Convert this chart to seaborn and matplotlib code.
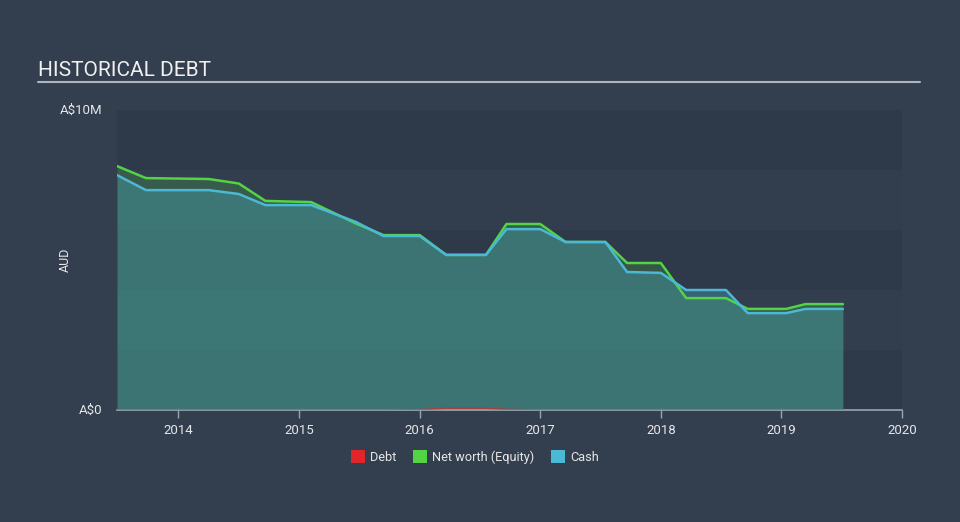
import matplotlib
matplotlib.use("Agg")
import matplotlib.pyplot as plt
import seaborn as sns
import pandas as pd
from matplotlib.patches import Patch

# ---- data (A$ millions), dates in decimal years ----
dates = [2013.49, 2013.73, 2014.25, 2014.50, 2014.72, 2015.10, 2015.47, 2015.70,
         2016.00, 2016.22, 2016.55, 2016.72, 2017.00, 2017.21, 2017.54, 2017.72,
         2018.00, 2018.21, 2018.54, 2018.72, 2019.04, 2019.20, 2019.51]
net_worth = [8.13, 7.73, 7.70, 7.55, 6.97, 6.93, 6.22, 5.83,
             5.83, 5.17, 5.17, 6.20, 6.20, 5.60, 5.60, 4.90,
             4.90, 3.73, 3.73, 3.37, 3.37, 3.53, 3.53]
cash = [7.83, 7.33, 7.33, 7.20, 6.83, 6.83, 6.27, 5.80,
        5.80, 5.17, 5.17, 6.03, 6.03, 5.60, 5.60, 4.60,
        4.57, 4.00, 4.00, 3.23, 3.23, 3.37, 3.37]
debt = [0, 0, 0, 0, 0, 0, 0, 0,
        0.01, 0.06, 0.06, 0.02, 0, 0, 0, 0,
        0, 0, 0, 0, 0, 0, 0]
year_ticks = [2014, 2015, 2016, 2017, 2018, 2019, 2020]
y_ticks = [0, 10]
y_tick_labels = ["A$0", "A$10M"]

df = pd.DataFrame({"date": dates, "Net worth (Equity)": net_worth,
                   "Cash": cash, "Debt": debt})

BG = "#333f4f"
DARK = "#2e3949"
LIGHT = "#323e4e"
GREEN = "#52d444"
BLUE = "#4bb8d6"
RED = "#e0262a"
TXT = "#e6e6e6"

sns.set_theme(style="dark")
plt.rcParams["font.family"] = ["Roboto", "DejaVu Sans"]

fig = plt.figure(figsize=(9.6, 5.22), dpi=100, facecolor=BG)
W, H = 960, 522
ax = fig.add_axes([117 / W, 1 - 410 / H, (902 - 117) / W, 300 / H])
ax.set_facecolor(BG)

# horizontal bands
for i in range(5):
    ax.axhspan(i * 2, i * 2 + 2, color=DARK if i % 2 == 0 else LIGHT, lw=0, zorder=0)

ax.fill_between(df["date"], 0, df["Net worth (Equity)"], color=GREEN, alpha=0.2, lw=0, zorder=1)
ax.fill_between(df["date"], 0, df["Cash"], color=BLUE, alpha=0.3, lw=0, zorder=2)

sns.lineplot(data=df, x="date", y="Net worth (Equity)", ax=ax, color=GREEN, lw=1.8, zorder=4)
sns.lineplot(data=df, x="date", y="Cash", ax=ax, color=BLUE, lw=1.8, zorder=5)
sns.lineplot(data=df, x="date", y="Debt", ax=ax, color=RED, lw=1.2, alpha=0.6, zorder=6)

ax.set_xlim(2013.49, 2020.0)
ax.set_ylim(0, 10)
ax.set_xlabel("")
ax.set_ylabel("")
for s in ["top", "right", "left"]:
    ax.spines[s].set_visible(False)
ax.spines["bottom"].set_color("#9aa4b0")
ax.spines["bottom"].set_linewidth(1.2)
ax.set_xticks(year_ticks)
ax.set_xticklabels([str(y) for y in year_ticks], color=TXT, fontsize=9.5)
ax.tick_params(axis="x", length=6, width=1, color="#9aa4b0", pad=4, bottom=True)
ax.set_yticks([])
ax.grid(False)

# y tick labels
for v, lab in zip(y_ticks, y_tick_labels):
    fig.text(102 / W, 1 - (410 - v * 30) / H, lab, ha="right", va="center",
             color=TXT, fontsize=9.5)
fig.text(65 / W, 1 - 260 / H, "AUD", rotation=90, ha="center", va="center",
         color=TXT, fontsize=9)

# title and rule
fig.text(38 / W, 1 - 70 / H, "HISTORICAL DEBT", ha="left", va="center",
         color="#f0f0f0", fontsize=15)
fig.add_artist(plt.Line2D([38 / W, 920 / W], [1 - 82 / H, 1 - 82 / H],
                          color="#b0b4ba", lw=1.5))

handles = [Patch(facecolor=RED, edgecolor="none", label="Debt"),
           Patch(facecolor=GREEN, edgecolor="none", label="Net worth (Equity)"),
           Patch(facecolor=BLUE, edgecolor="none", label="Cash")]
leg = fig.legend(handles=handles, loc="center", bbox_to_anchor=(475 / W, 1 - 457 / H),
                 ncol=3, frameon=False, fontsize=9.2, handlelength=1.1, handleheight=1.1,
                 handletextpad=0.4, columnspacing=1.3)
for t in leg.get_texts():
    t.set_color(TXT)

fig.savefig("out.png", dpi=100, facecolor=BG)
